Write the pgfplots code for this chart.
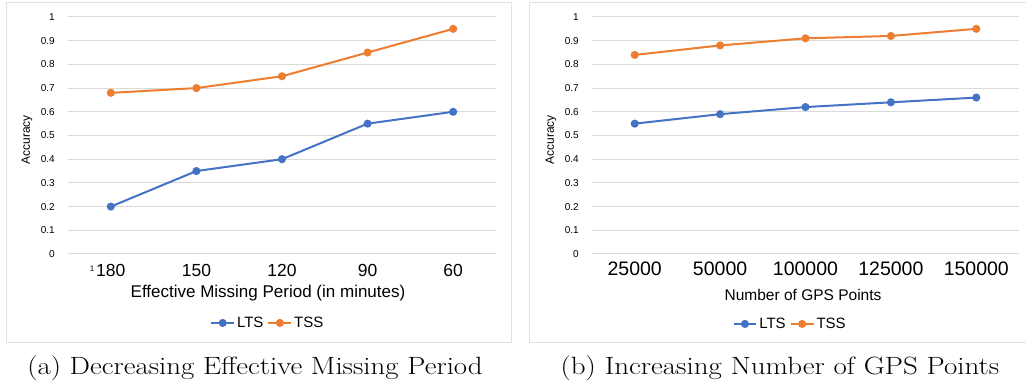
\documentclass[border=0pt]{standalone}
\usepackage{fontspec}
\newfontfamily\cf{Liberation Sans}
\usepackage{pgfplots}
\pgfplotsset{compat=1.18}
\definecolor{ltsblue}{HTML}{4472C4}
\definecolor{tssorange}{HTML}{ED7D31}
\definecolor{gridgray}{HTML}{D9D9D9}
\definecolor{boxgray}{HTML}{E2E2E2}
\pgfplotsset{excel/.style={
  scale only axis, height=237pt,
  xmin=-0.5, xmax=4.5, ymin=0, ymax=1,
  axis line style={draw=none}, major tick length=0pt,
  ytick={0,0.1,0.2,0.3,0.4,0.5,0.6,0.7,0.8,0.9,1},
  yticklabels={0,0.1,0.2,0.3,0.4,0.5,0.6,0.7,0.8,0.9,1},
  ymajorgrids, major grid style={gridgray, line width=1pt},
  xtick={0,1,2,3,4},
  yticklabel style={font=\cf\fontsize{10}{12}\selectfont, anchor=east, inner sep=0pt, xshift=-13pt},
  every axis plot/.append style={line width=2pt, mark=*, mark size=3pt, mark options={solid}},
  legend columns=2,
  legend style={draw=none, fill=none, font=\cf\fontsize{15}{17}\selectfont,
    /tikz/every even column/.append style={column sep=2pt}, inner sep=0pt},
  legend image code/.code={\draw[mark repeat=2,mark phase=2] plot coordinates {(0cm,0cm)(0.4cm,0cm)(0.8cm,0cm)};},
  clip=false,
}}
\begin{document}
\begin{tikzpicture}
\path[use as bounding box] (0,0) rectangle (1026pt,385pt);
\draw[boxgray, line width=1pt] (6pt,42pt) rectangle (511pt,382pt);
\draw[boxgray, line width=1pt] (529pt,42pt) rectangle (1027pt,382pt);

\begin{axis}[excel, width=428pt, at={(68pt,131pt)}, anchor=south west,
  xticklabels={{\llap{\raisebox{5pt}{\fontsize{8}{9}\selectfont 1}\hspace{2pt}}180},150,120,90,60},
  xticklabel style={font=\cf\fontsize{17.5}{20}\selectfont, anchor=center, inner sep=0pt, yshift=-16pt},
  legend style={at={(axis description cs:0.467,-0.291)}, anchor=center}]
\addplot[color=ltsblue] coordinates {(0,0.2)(1,0.35)(2,0.4)(3,0.55)(4,0.6)};
\addlegendentry{LTS}
\addplot[color=tssorange] coordinates {(0,0.68)(1,0.70)(2,0.75)(3,0.85)(4,0.95)};
\addlegendentry{TSS}
\end{axis}

\begin{axis}[excel, width=427pt, at={(592pt,131pt)}, anchor=south west,
  xticklabels={25000,50000,100000,125000,150000},
  xticklabel style={font=\cf\fontsize{19.5}{22}\selectfont, anchor=center, inner sep=0pt, yshift=-15pt},
  legend style={at={(axis description cs:0.464,-0.295)}, anchor=center}]
\addplot[color=ltsblue] coordinates {(0,0.55)(1,0.59)(2,0.62)(3,0.64)(4,0.66)};
\addlegendentry{LTS}
\addplot[color=tssorange] coordinates {(0,0.84)(1,0.88)(2,0.91)(3,0.92)(4,0.95)};
\addlegendentry{TSS}
\end{axis}

\node[rotate=90, font=\cf\fontsize{12}{14}\selectfont] at (27pt,245pt) {Accuracy};
\node[rotate=90, font=\cf\fontsize{12}{14}\selectfont] at (551pt,245pt) {Accuracy};
\node[font=\cf\fontsize{17}{20}\selectfont] at (268pt,92pt) {Effective Missing Period (in minutes)};
\node[font=\cf\fontsize{15.5}{18}\selectfont] at (803pt,90pt) {Number of GPS Points};

\node[anchor=base, inner sep=0pt] at (255pt,10pt) {\scalebox{1.155}[1]{\fontsize{25}{29}\selectfont (a) Decreasing Effective Missing Period}};
\node[anchor=base, inner sep=0pt] at (780pt,10pt) {\scalebox{1.16}[1]{\fontsize{25}{29}\selectfont (b) Increasing Number of GPS Points}};
\end{tikzpicture}
\end{document}
